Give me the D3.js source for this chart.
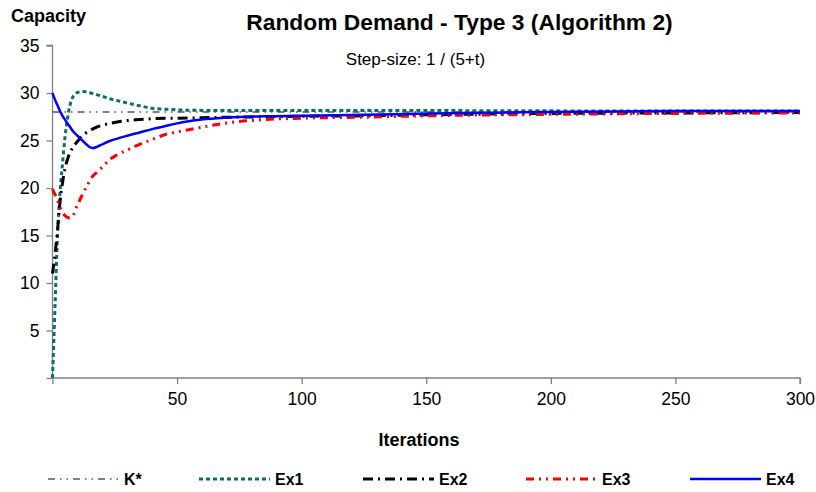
<!DOCTYPE html>
<html>
<head>
<meta charset="utf-8">
<script src="https://cdn.jsdelivr.net/npm/d3@7"></script>
<style>
  html, body { margin: 0; padding: 0; background: #fff; }
  svg { display: block; font-family: "Liberation Sans", Arial, sans-serif; }
</style>
</head>
<body>
<svg id="chart" width="816" height="492"></svg>
<script>
// Iteration grid shared by the four experiment runs
const iterations = [0, 1, 2, 3, 4, 5, 6, 7, 8, 10, 12, 14, 16, 18, 20, 23, 26, 30, 35, 40, 45, 50, 60, 70, 85, 100, 125, 150, 200, 250, 300];

// Optimal capacity K*
const kStar = 28;

// Capacity estimates per experiment
const ex1 = [0, 7.5, 15, 19.5, 22.5, 25.3, 27.3, 28.7, 29.5, 30.05, 30.15, 30.1, 29.95, 29.8, 29.65, 29.4, 29.2, 28.95, 28.65, 28.4, 28.3, 28.22, 28.17, 28.15, 28.15, 28.15, 28.15, 28.15, 28.12, 28.1, 28.1];
const ex2 = [11, 13, 15.5, 18.5, 20.5, 22, 23, 23.7, 24.2, 24.9, 25.5, 25.9, 26.2, 26.45, 26.6, 26.8, 26.95, 27.1, 27.2, 27.3, 27.35, 27.35, 27.4, 27.45, 27.5, 27.55, 27.6, 27.7, 27.85, 27.9, 27.95];
const ex3 = [19.9, 19.3, 18.7, 18.0, 17.45, 17.1, 16.9, 16.85, 17.0, 18.2, 19.3, 20.3, 21.2, 21.7, 22.2, 23.0, 23.5, 24.0, 24.6, 25.1, 25.6, 25.9, 26.4, 26.85, 27.2, 27.35, 27.45, 27.6, 27.75, 27.85, 27.9];
const ex4 = [30, 29.3, 28.7, 28.1, 27.6, 27.2, 26.8, 26.45, 26.05, 25.5, 25.0, 24.5, 24.2, 24.35, 24.6, 24.95, 25.2, 25.5, 25.85, 26.2, 26.5, 26.8, 27.2, 27.4, 27.55, 27.6, 27.7, 27.85, 28.0, 28.1, 28.1];

const xTicks = [0, 50, 100, 150, 200, 250, 300];
const yTicks = [0, 5, 10, 15, 20, 25, 30, 35];

const seriesNames = ["K*", "Ex1", "Ex2", "Ex3", "Ex4"];

const styles = {
  "K*":  { color: "#555555", width: 1.5, dash: "7,5,1.5,5,1.5,5" },
  "Ex1": { color: "#0b6e6e", width: 3,   dash: "4,3" },
  "Ex2": { color: "#000000", width: 3,   dash: "10,5,2,5" },
  "Ex3": { color: "#ff0000", width: 3,   dash: "8,5,2,5,2,5" },
  "Ex4": { color: "#0000ff", width: 2.5, dash: null }
};

const svg = d3.select("#chart");
const plot = { left: 52.5, right: 800, top: 45.5, bottom: 378 };

const x = d3.scaleLinear().domain([0, 300]).range([plot.left, plot.right]);
const y = d3.scaleLinear().domain([0, 35]).range([plot.bottom, plot.top]);

// Axes
const axisColor = "#808080";
const yAxis = svg.append("g")
  .attr("transform", `translate(${plot.left},0)`)
  .call(d3.axisLeft(y).tickValues(yTicks).tickSize(6).tickPadding(7)
    .tickFormat(d => d === 0 ? "" : d));
const xAxis = svg.append("g")
  .attr("transform", `translate(0,${plot.bottom})`)
  .call(d3.axisBottom(x).tickValues(xTicks).tickSize(6).tickPadding(9)
    .tickFormat(d => d === 0 ? "" : d));
[xAxis, yAxis].forEach(g => {
  g.select(".domain").attr("stroke", axisColor).attr("stroke-width", 1.3);
  g.selectAll(".tick line").attr("stroke", axisColor).attr("stroke-width", 1.3);
  g.selectAll(".tick text").attr("fill", "#000").attr("font-size", 17.5)
    .attr("font-family", "Liberation Sans, Arial, sans-serif");
});
xAxis.select(".domain").attr("d", `M${plot.left},0H${plot.right}V6`);
yAxis.select(".domain").attr("d", `M-6,${plot.top}H0V${plot.bottom}`);

// Lines
const line = d3.line()
  .x(d => x(d[0]))
  .y(d => y(d[1]))
  .curve(d3.curveMonotoneX);

const seriesData = {
  "K*":  [[x.domain()[0], kStar], [x.domain()[1], kStar]],
  "Ex1": iterations.map((t, i) => [t, ex1[i]]),
  "Ex2": iterations.map((t, i) => [t, ex2[i]]),
  "Ex3": iterations.map((t, i) => [t, ex3[i]]),
  "Ex4": iterations.map((t, i) => [t, ex4[i]])
};

const lines = svg.append("g");
seriesNames.forEach(name => {
  const s = styles[name];
  lines.append("path")
    .datum(seriesData[name])
    .attr("d", line)
    .attr("fill", "none")
    .attr("stroke", s.color)
    .attr("stroke-width", s.width)
    .attr("stroke-dasharray", s.dash)
    .attr("stroke-linejoin", "round");
});

// Titles
svg.append("text").attr("x", 11).attr("y", 22)
  .attr("font-size", 18).attr("font-weight", "bold").text("Capacity");
svg.append("text").attr("x", 459.5).attr("y", 30).attr("text-anchor", "middle")
  .attr("font-size", 22.8).attr("font-weight", "bold")
  .text("Random Demand - Type 3 (Algorithm 2)");
svg.append("text").attr("x", 415.5).attr("y", 65).attr("text-anchor", "middle")
  .attr("font-size", 17).text("Step-size: 1 / (5+t)");
svg.append("text").attr("x", 419).attr("y", 446).attr("text-anchor", "middle")
  .attr("font-size", 18).attr("font-weight", "bold").text("Iterations");

// Legend
const legendX = [48, 199, 363, 526, 690];
const legendY = 479;
const legend = svg.append("g");
seriesNames.forEach((name, i) => {
  const s = styles[name];
  const g = legend.append("g").attr("transform", `translate(${legendX[i]},${legendY})`);
  g.append("line").attr("x1", 0).attr("x2", 71).attr("y1", 0).attr("y2", 0)
    .attr("stroke", s.color).attr("stroke-width", s.width)
    .attr("stroke-dasharray", s.dash);
  g.append("text").attr("x", 76).attr("y", 6).attr("font-size", 16)
    .attr("font-weight", "bold").text(name);
});
</script>
</body>
</html>
